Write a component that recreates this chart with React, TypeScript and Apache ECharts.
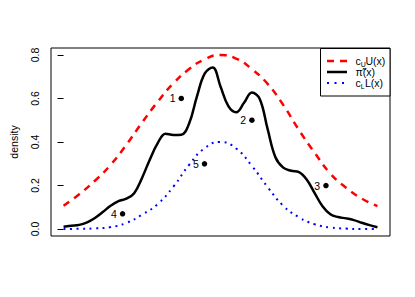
import React, { useEffect, useRef } from "react";
import * as echarts from "echarts";

const X_COARSE = [0, 0.05, 0.1, 0.15, 0.2, 0.25, 0.3, 0.35, 0.4, 0.45, 0.5, 0.55, 0.6, 0.65, 0.7, 0.75, 0.8, 0.85, 0.9, 0.95, 1];
const UPPER = [0.107, 0.16, 0.222, 0.295, 0.387, 0.489, 0.585, 0.67, 0.735, 0.78, 0.8, 0.783, 0.735, 0.667, 0.57, 0.455, 0.35, 0.255, 0.19, 0.14, 0.105];
const LOWER = [0, 0.001, 0.003, 0.009, 0.028, 0.066, 0.115, 0.195, 0.295, 0.372, 0.4, 0.37, 0.29, 0.193, 0.107, 0.054, 0.022, 0.007, 0.002, 0, 0];

const X_FINE = [0, 0.025, 0.05, 0.075, 0.1, 0.125, 0.15, 0.175, 0.2, 0.225, 0.25, 0.275, 0.3, 0.325, 0.35, 0.375, 0.4, 0.425, 0.45, 0.475, 0.5, 0.525, 0.55, 0.575, 0.6, 0.625, 0.65, 0.675, 0.7, 0.725, 0.75, 0.775, 0.8, 0.825, 0.85, 0.875, 0.9, 0.925, 0.95, 0.975, 1];
const PI_TILDE = [0.011, 0.015, 0.019, 0.031, 0.051, 0.078, 0.107, 0.128, 0.14, 0.165, 0.235, 0.32, 0.395, 0.438, 0.432, 0.433, 0.485, 0.61, 0.715, 0.742, 0.655, 0.565, 0.537, 0.58, 0.627, 0.598, 0.46, 0.33, 0.282, 0.268, 0.262, 0.227, 0.165, 0.105, 0.068, 0.055, 0.049, 0.041, 0.029, 0.018, 0.008];

const POINT_X = [0.375, 0.6, 0.836, 0.188, 0.449];
const POINT_Y = [0.6, 0.5, 0.2, 0.07, 0.3];
const POINT_LABELS = ["1", "2", "3", "4", "5"];

const Y_TICKS = [0, 0.2, 0.4, 0.6, 0.8];
const LEGEND_TEXTS = ["U(x)", "π̃(x)", "L(x)"];

const FONT = "Liberation Sans, Arial, Helvetica, sans-serif";

export default function App() {
  const ref = useRef<HTMLDivElement>(null);
  useEffect(() => {
    if (!ref.current) return;
    const chart = echarts.init(ref.current, null, { renderer: "svg" });
    const zip = (xs: number[], ys: number[]) => xs.map((x, i) => [x, ys[i]]);
    const lx = 327;
    const lx2 = 347;
    const tx = 355.5;
    const rows = [61, 72, 83];
    chart.setOption({
      animation: false,
      grid: {
        left: 48,
        right: 25,
        top: 48,
        bottom: 61,
        show: true,
        borderColor: "#000",
        borderWidth: 1,
        backgroundColor: "transparent",
      },
      xAxis: {
        type: "value",
        min: -0.04,
        max: 1.04,
        show: false,
        splitLine: { show: false },
      },
      yAxis: {
        type: "value",
        min: -0.032,
        max: 0.832,
        splitLine: { show: false },
        axisLine: { show: false },
        axisTick: {
          show: true,
          length: 6,
          customValues: Y_TICKS,
          lineStyle: { color: "#000", width: 1 },
        },
        axisLabel: {
          show: true,
          customValues: Y_TICKS,
          rotate: 90,
          margin: 11,
          fontFamily: FONT,
          fontSize: 10.5,
          color: "#000",
          formatter: (v: number) => v.toFixed(1),
        },
        name: "density",
        nameLocation: "middle",
        nameRotate: 90,
        nameGap: 32,
        nameTextStyle: { fontFamily: FONT, fontSize: 10.5, color: "#000" },
      },
      series: [
        {
          type: "line",
          data: zip(X_COARSE, UPPER),
          smooth: true,
          symbol: "none",
          lineStyle: { color: "#FF0000", width: 2.5, type: [7, 6], cap: "butt" },
        },
        {
          type: "line",
          data: zip(X_FINE, PI_TILDE),
          smooth: 0.4,
          symbol: "none",
          lineStyle: { color: "#000", width: 2.5 },
        },
        {
          type: "line",
          data: zip(X_COARSE, LOWER),
          smooth: true,
          symbol: "none",
          lineStyle: { color: "#0000FF", width: 2, type: [2, 4.5], cap: "butt" },
        },
        {
          type: "scatter",
          data: POINT_X.map((x, i) => ({ value: [x, POINT_Y[i]], name: POINT_LABELS[i] })),
          symbol: "circle",
          symbolSize: 5.5,
          itemStyle: { color: "#000", opacity: 1 },
          label: {
            show: true,
            position: "left",
            distance: 3,
            formatter: (p: any) => p.name,
            fontFamily: FONT,
            fontSize: 10.5,
            color: "#000",
          },
          emphasis: { disabled: true },
        },
      ],
      graphic: [
        {
          type: "rect",
          shape: { x: 320.5, y: 48.5, width: 69.5, height: 47.5 },
          style: { fill: "#fff", stroke: "#000", lineWidth: 1 },
          z: 100,
        },
        {
          type: "line",
          shape: { x1: lx, y1: rows[0], x2: lx2, y2: rows[0] },
          style: { stroke: "#FF0000", lineWidth: 2.5, lineDash: [7, 6] },
          z: 101,
        },
        {
          type: "line",
          shape: { x1: lx, y1: rows[1], x2: lx2, y2: rows[1] },
          style: { stroke: "#000", lineWidth: 2.5 },
          z: 101,
        },
        {
          type: "line",
          shape: { x1: lx, y1: rows[2], x2: lx2, y2: rows[2] },
          style: { stroke: "#0000FF", lineWidth: 2, lineDash: [2, 5.5] },
          z: 101,
        },
        {
          type: "text",
          x: tx,
          y: rows[0],
          style: { text: "c", font: `10.5px ${FONT}`, fill: "#000", verticalAlign: "middle" },
          z: 101,
        },
        {
          type: "text",
          x: tx + 5.3,
          y: rows[0] + 3,
          style: { text: "U", font: `7px ${FONT}`, fill: "#000", verticalAlign: "middle" },
          z: 101,
        },
        {
          type: "text",
          x: tx + 10,
          y: rows[0],
          style: { text: LEGEND_TEXTS[0], font: `10.5px ${FONT}`, fill: "#000", verticalAlign: "middle" },
          z: 101,
        },
        {
          type: "text",
          x: tx,
          y: rows[1],
          style: { text: LEGEND_TEXTS[1], font: `10.5px ${FONT}`, fill: "#000", verticalAlign: "middle" },
          z: 101,
        },
        {
          type: "text",
          x: tx,
          y: rows[2],
          style: { text: "c", font: `10.5px ${FONT}`, fill: "#000", verticalAlign: "middle" },
          z: 101,
        },
        {
          type: "text",
          x: tx + 5.3,
          y: rows[2] + 3,
          style: { text: "L", font: `7px ${FONT}`, fill: "#000", verticalAlign: "middle" },
          z: 101,
        },
        {
          type: "text",
          x: tx + 9.5,
          y: rows[2],
          style: { text: LEGEND_TEXTS[2], font: `10.5px ${FONT}`, fill: "#000", verticalAlign: "middle" },
          z: 101,
        },
      ],
    });
    return () => chart.dispose();
  }, []);
  return (
    <div
      ref={ref}
      style={{ position: "absolute", left: 0, top: 0, width: 415, height: 297, background: "#fff" }}
    />
  );
}
